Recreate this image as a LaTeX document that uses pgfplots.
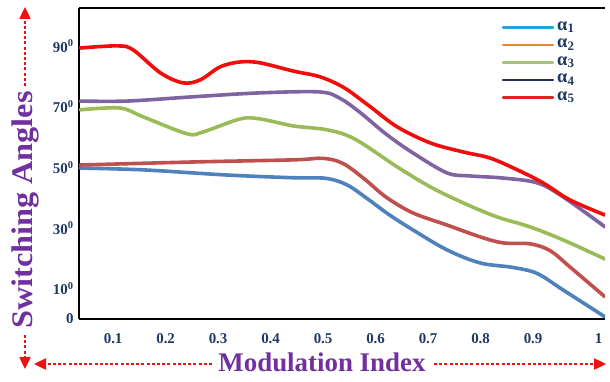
\documentclass[border=0pt]{standalone}
\usepackage{pgfplots}
\pgfplotsset{compat=1.18}
\usepackage{fontspec}
\setmainfont{Liberation Serif}
\usetikzlibrary{arrows.meta}
\definecolor{ticknavy}{HTML}{1F3864}
\definecolor{labpurple}{HTML}{7030A0}
\definecolor{arrred}{HTML}{EE1111}
\definecolor{cRed}{HTML}{F20C0C}
\definecolor{cPurple}{HTML}{8064A2}
\definecolor{cGreen}{HTML}{9BBB59}
\definecolor{cDRed}{HTML}{C0504D}
\definecolor{cBlue}{HTML}{4F81BD}
\definecolor{lA}{HTML}{1FA5DE}
\definecolor{lB}{HTML}{E8833A}
\definecolor{lC}{HTML}{A3C47A}
\definecolor{lD}{HTML}{1F2D5C}
\definecolor{lE}{HTML}{E02424}
\begin{document}
\begin{tikzpicture}[x=1bp,y=1bp]
\useasboundingbox (0,0) rectangle (610,381);
\begin{axis}[
  at={(79bp,62bp)}, anchor=south west,
  scale only axis, width=526bp, height=311bp,
  xmin=0.035, xmax=1.037, ymin=0, ymax=102.6,
  separate axis lines,
  axis x line=box, axis y line=left,
  axis line style={-, line width=2.2bp, black},
  major tick length=0pt,
  xtick={0.1,0.2,0.3,0.4,0.5,0.6,0.7,0.8,0.9,1.025},
  xticklabels={0.1,0.2,0.3,0.4,0.5,0.6,0.7,0.8,0.9,1},
  ytick={0,10,30,50,70,90},
  yticklabels={0,10\textsuperscript{0},30\textsuperscript{0},50\textsuperscript{0},70\textsuperscript{0},90\textsuperscript{0}},
  ticklabel style={font=\fontsize{15}{15}\selectfont\bfseries, text=ticknavy},
  xticklabel style={yshift=-11bp},
  yticklabel style={xshift=-2bp},
  legend style={draw=none, fill=none, at={(0.948,0.965)}, anchor=north east,
    font=\fontsize{18.5}{18.5}\selectfont\bfseries, text=ticknavy,
    row sep=4.5bp, nodes={inner sep=0bp, text height=9bp, text depth=4bp}},
  legend cell align=left,
  legend image code/.code={\draw[#1] (0bp,0bp) -- (50bp,0bp);},
  every axis plot/.append style={smooth, tension=0.55, line width=3.6bp, line cap=round},
]
\addlegendimage{lA, line width=2.4bp}\addlegendentry{\,α\textsubscript{1}}
\addlegendimage{lB, line width=2.4bp}\addlegendentry{\,α\textsubscript{2}}
\addlegendimage{lC, line width=2.4bp}\addlegendentry{\,α\textsubscript{3}}
\addlegendimage{lD, line width=2.4bp}\addlegendentry{\,α\textsubscript{4}}
\addlegendimage{lE, line width=2.4bp}\addlegendentry{\,α\textsubscript{5}}
% alpha1 (blue)
\addplot[cBlue, forget plot] coordinates {
(0.037,49.8) (0.157,49.2) (0.317,47.5) (0.443,46.6) (0.505,46.4) (0.545,44.3)
(0.585,39.6) (0.625,34.5) (0.671,29.4) (0.736,22.8) (0.799,18.5) (0.862,17.0)
(0.908,15.0) (0.957,9.6) (1.037,0.7)};
% alpha2 (dark red)
\addplot[cDRed, forget plot] coordinates {
(0.037,50.8) (0.252,51.8) (0.443,52.5) (0.500,53.0) (0.538,51.3) (0.578,46.3)
(0.620,40.2) (0.671,35.0) (0.736,31.0) (0.799,27.1) (0.843,25.1) (0.894,24.8)
(0.932,22.6) (0.970,17.2) (1.037,7.3)};
% alpha3 (green)
\addplot[cGreen, forget plot] coordinates {
(0.037,69.0) (0.113,69.6) (0.157,66.7) (0.241,61.1) (0.271,61.7) (0.342,66.0)
(0.380,66.0) (0.443,63.7) (0.508,62.4) (0.560,59.4) (0.641,50.2) (0.704,43.6)
(0.767,38.3) (0.831,33.7) (0.894,30.4) (0.957,26.1) (1.037,19.8)};
% alpha4 (purple)
\addplot[cPurple, forget plot] coordinates {
(0.037,71.9) (0.127,71.9) (0.252,73.3) (0.380,74.6) (0.494,74.9) (0.532,72.8)
(0.570,68.2) (0.620,61.0) (0.671,54.8) (0.736,48.2) (0.780,47.2) (0.843,46.5)
(0.908,44.9) (0.957,40.3) (1.037,30.4)};
% alpha5 (red)
\addplot[cRed, forget plot] coordinates {
(0.037,89.4) (0.108,90.1) (0.138,88.8) (0.190,81.2) (0.233,77.9) (0.266,78.9)
(0.304,83.2) (0.342,84.8) (0.380,84.5) (0.443,81.8) (0.494,79.9) (0.540,76.3)
(0.590,70.0) (0.641,63.4) (0.704,58.1) (0.767,55.1) (0.818,53.1)
(0.870,49.2) (0.919,44.9) (0.970,39.3) (1.037,34.3)};
\end{axis}
% axis titles with dotted arrows
\node[rotate=90, xscale=1.08, font=\fontsize{30}{30}\selectfont\bfseries, text=labpurple, inner sep=0pt] at (25,171) {Switching Angles};
\draw[arrred, line width=2.4bp, dash pattern=on 3bp off 2.2bp, -{Triangle[length=12bp,width=11bp]}] (25,295) -- (25,374);
\draw[arrred, line width=2.4bp, dash pattern=on 3bp off 2.2bp, -{Triangle[length=12bp,width=11bp]}] (25,46) -- (25,12);
\node[font=\fontsize{27}{27}\selectfont\bfseries, text=labpurple, inner sep=0pt] at (322,19) {Modulation Index};
\draw[arrred, line width=2.4bp, dash pattern=on 3bp off 2.2bp, -{Triangle[length=12bp,width=11bp]}] (212,17) -- (34,17);
\draw[arrred, line width=2.4bp, dash pattern=on 3bp off 2.2bp, -{Triangle[length=12bp,width=11bp]}] (434,17) -- (606,17);
\end{tikzpicture}
\end{document}
